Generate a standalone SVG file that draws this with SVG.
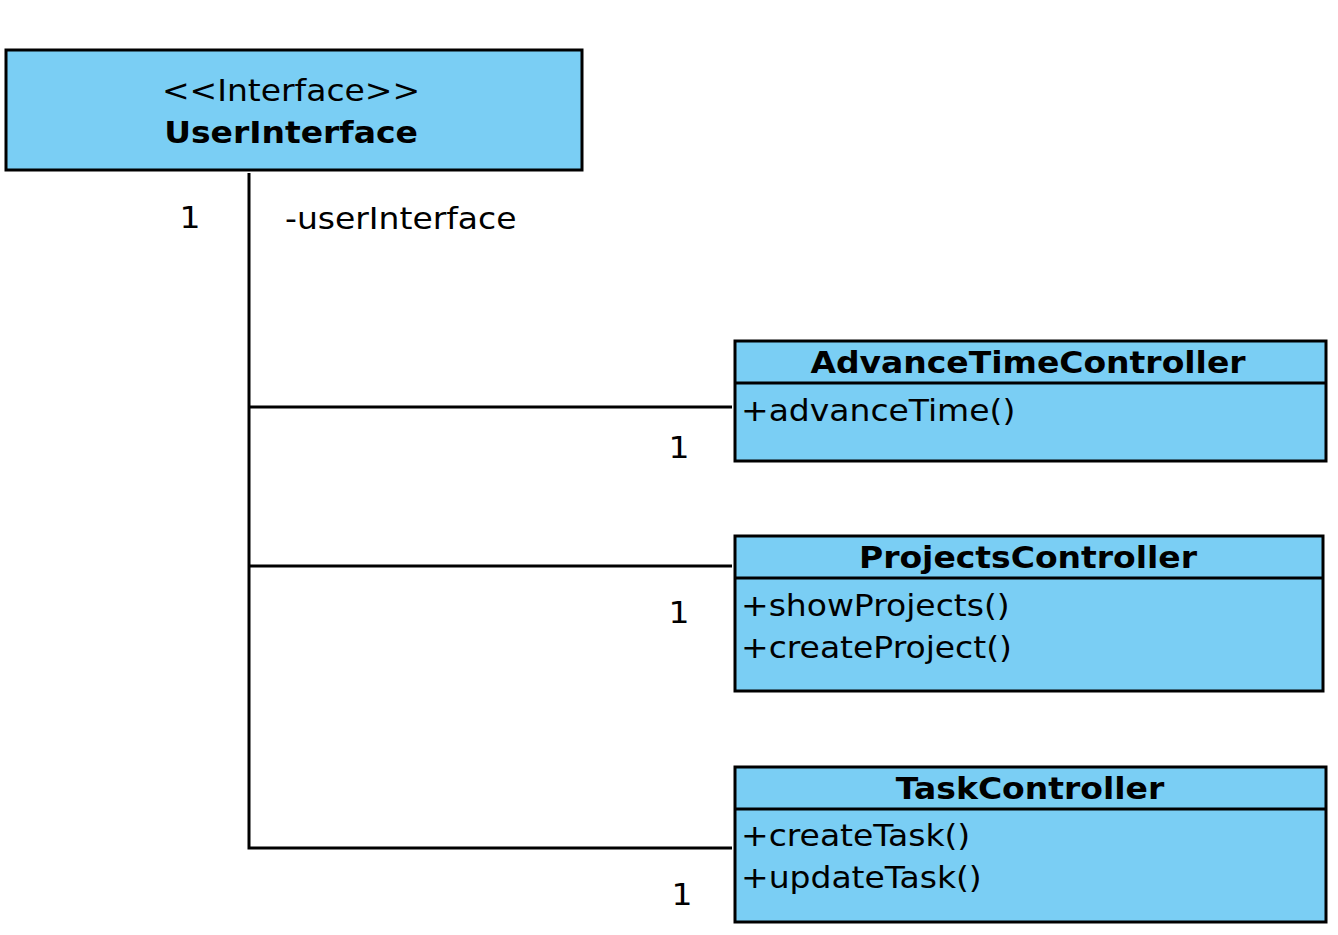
<svg xmlns="http://www.w3.org/2000/svg" width="1338" height="935" viewBox="0 0 1338 935">
<style>
.box{fill:#7acef4;stroke:#000;stroke-width:3}
.ln{stroke:#000;stroke-width:3;fill:none}
text{font-family:"DejaVu Sans",sans-serif;font-size:30px;fill:#000}
.b{font-weight:bold}
.c{text-anchor:middle}
</style>
<rect width="1338" height="935" fill="#fff"/>
<g id="connectors">
<path class="ln" d="M249,173 V848 H732 M249,407 H732 M249,566 H732"/>
<text transform="translate(190,228) scale(1.1,1)" class="c">1</text>
<text transform="translate(285,229) scale(1.1,1)">-userInterface</text>
<text transform="translate(679,458) scale(1.1,1)" class="c">1</text>
<text transform="translate(679,623) scale(1.1,1)" class="c">1</text>
<text transform="translate(682,905) scale(1.1,1)" class="c">1</text>
</g>
<g id="UserInterface">
<rect class="box" x="6" y="50" width="576" height="120"/>
<text transform="translate(291,101) scale(1.1,1)" class="c">&lt;&lt;Interface&gt;&gt;</text>
<text transform="translate(291,143) scale(1.1,1)" class="c b">UserInterface</text>
</g>
<g id="AdvanceTimeController">
<rect class="box" x="735" y="341" width="591" height="120"/>
<path class="ln" d="M735,383 H1326"/>
<text transform="translate(1028,373) scale(1.1,1)" class="c b">AdvanceTimeController</text>
<text transform="translate(741,421) scale(1.1,1)">+advanceTime()</text>
</g>
<g id="ProjectsController">
<rect class="box" x="735" y="536" width="588" height="155"/>
<path class="ln" d="M735,578 H1323"/>
<text transform="translate(1028,568) scale(1.1,1)" class="c b">ProjectsController</text>
<text transform="translate(741,616) scale(1.1,1)">+showProjects()</text>
<text transform="translate(741,658) scale(1.1,1)">+createProject()</text>
</g>
<g id="TaskController">
<rect class="box" x="735" y="767" width="591" height="155"/>
<path class="ln" d="M735,809 H1326"/>
<text transform="translate(1030,799) scale(1.1,1)" class="c b">TaskController</text>
<text transform="translate(741,846) scale(1.1,1)">+createTask()</text>
<text transform="translate(741,888) scale(1.1,1)">+updateTask()</text>
</g>
</svg>
